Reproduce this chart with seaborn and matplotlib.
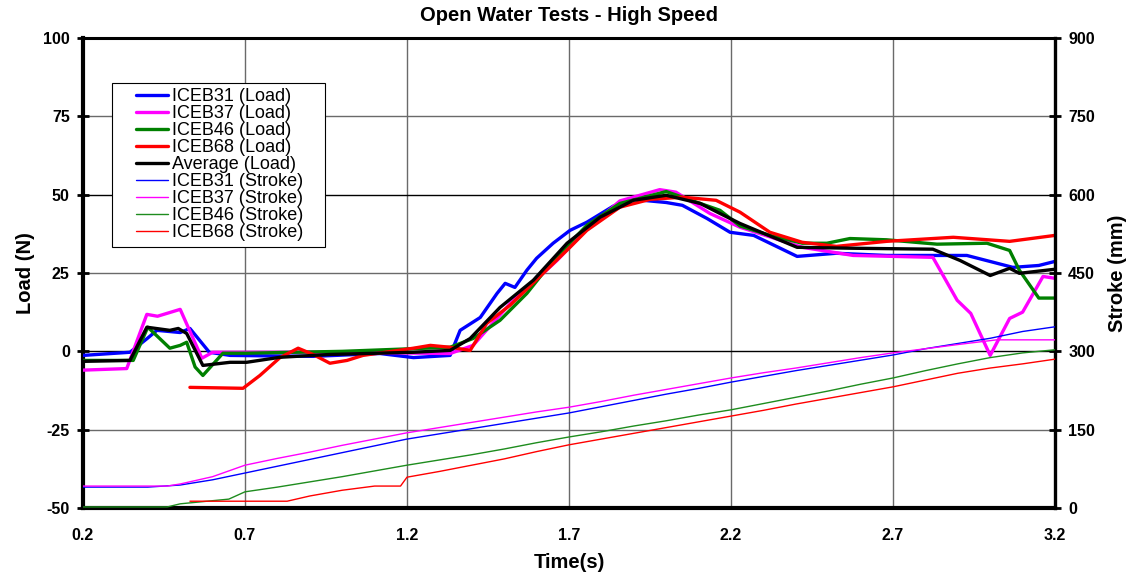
import numpy as np
import pandas as pd
import matplotlib
matplotlib.use("Agg")
import matplotlib.pyplot as plt
from matplotlib.legend_handler import HandlerLine2D
import seaborn as sns

# ---------------- data ----------------
title = "Open Water Tests - High Speed"
x_ticks = [0.2, 0.7, 1.2, 1.7, 2.2, 2.7, 3.2]
load_ticks = [-50, -25, 0, 25, 50, 75, 100]
stroke_ticks = [0, 150, 300, 450, 600, 750, 900]

# Load (N)
icEB31_load_t = [0.2, 0.345, 0.397, 0.428, 0.5, 0.53, 0.59, 0.654, 0.91, 1.117, 1.22, 1.333, 1.364,
                 1.426, 1.478, 1.503, 1.533, 1.57, 1.6, 1.651, 1.703, 1.755, 1.836, 1.898, 2.0, 2.05,
                 2.126, 2.197, 2.27, 2.404, 2.525, 2.68, 2.928, 3.07, 3.15, 3.2]
icEB31_load = [-1.3, -0.3, 4, 6.7, 6, 7.3, -0.3, -1.3, -1.6, -0.7, -2, -1.3, 6.7,
               10.8, 18.5, 21.7, 20.4, 25.9, 29.7, 34.5, 38.6, 41.2, 46.3, 48.5, 47.5, 46.6,
               42.4, 38, 37, 30.3, 31.3, 30.6, 30.6, 26.8, 27.4, 28.7]

icEB37_load_t = [0.2, 0.335, 0.397, 0.43, 0.5, 0.567, 0.6, 1.0, 1.333, 1.404, 1.518, 1.663, 1.755,
                 1.857, 1.98, 2.03, 2.135, 2.228, 2.42, 2.577, 2.823, 2.898, 2.94, 3.0, 3.06, 3.1,
                 3.163, 3.2]
icEB37_load = [-6, -5.5, 11.8, 11.2, 13.4, -2.2, -0.3, -0.3, -0.7, 1.9, 15.2, 29, 39,
               48, 51.6, 50.8, 44, 39.6, 33.2, 30.6, 30, 16.3, 12.1, -1.3, 10.5, 12.5,
               23.9, 23.3]

icEB46_load_t = [0.2, 0.355, 0.4, 0.468, 0.5, 0.52, 0.546, 0.57, 0.632, 0.705, 1.0, 1.333, 1.404,
                 1.487, 1.57, 1.651, 1.755, 1.857, 2.0, 2.105, 2.166, 2.228, 2.32, 2.42, 2.496,
                 2.567, 2.68, 2.836, 2.99, 3.06, 3.09, 3.15, 3.2]
icEB46_load = [-2.9, -2.9, 7.7, 1, 1.9, 2.9, -5, -7.7, -0.6, -0.6, 0, 1.3, 4.1,
               9.9, 18.5, 29, 40.2, 47.2, 51, 47.2, 45, 40, 37, 34.5, 34.5,
               36, 35.6, 34.2, 34.5, 32.2, 25.9, 17, 17]

icEB68_load_t = [0.53, 0.694, 0.746, 0.808, 0.864, 0.91, 0.962, 1.015, 1.064, 1.22, 1.272, 1.333,
                 1.395, 1.446, 1.518, 1.62, 1.703, 1.755, 1.857, 1.95, 2.05, 2.154, 2.228, 2.32,
                 2.42, 2.525, 2.68, 2.886, 3.06, 3.2]
icEB68_load = [-11.5, -11.8, -7.7, -2, 1, -1, -3.8, -2.9, -1.3, 1, 1.9, 1.3,
               0.3, 8.9, 14.7, 24.9, 33.2, 38.6, 46, 48.5, 49.2, 48.2, 44.4, 38,
               34.8, 33.5, 35.1, 36.4, 35.1, 37]

avg_load_t = [0.2, 0.345, 0.397, 0.468, 0.494, 0.52, 0.57, 0.654, 0.705, 0.808, 0.962, 1.22, 1.333,
              1.395, 1.487, 1.59, 1.694, 1.796, 1.898, 2.0, 2.105, 2.166, 2.228, 2.404, 2.577,
              2.823, 2.907, 3.0, 3.06, 3.09, 3.2]
avg_load = [-3.2, -2.9, 7.7, 6.7, 7.3, 5.7, -4.5, -3.5, -3.5, -1.9, -1, -0.3, 0.3,
            4.1, 14, 22.7, 34.5, 42.8, 48.2, 49.8, 47.2, 44, 40.8, 33.2, 32.9,
            32.6, 29, 24.2, 26.5, 24.9, 26.2]

# Stroke (mm)
icEB31_stroke_t = [0.2, 0.3, 0.4, 0.45, 0.5, 0.6, 0.7, 0.8, 0.9, 1.0, 1.1, 1.2, 1.3, 1.4, 1.5, 1.6,
                   1.7, 1.8, 1.9, 2.0, 2.1, 2.2, 2.3, 2.4, 2.5, 2.6, 2.7, 2.8, 2.9, 3.0, 3.1, 3.2]
icEB31_stroke = [40, 40, 40, 42, 44, 54, 67, 80, 93, 106, 119, 132, 142, 152, 162, 172,
                 182, 194, 206, 218, 229, 241, 252, 263, 273, 283, 293, 305, 315, 325, 338, 347]

icEB37_stroke_t = [0.2, 0.3, 0.4, 0.46, 0.5, 0.6, 0.7, 0.8, 0.9, 1.0, 1.1, 1.2, 1.3, 1.4, 1.5, 1.6,
                   1.7, 1.8, 1.9, 2.0, 2.1, 2.2, 2.3, 2.4, 2.5, 2.6, 2.7, 2.8, 2.9, 3.02, 3.1, 3.2]
icEB37_stroke = [42, 42, 42, 42, 46, 60, 82, 95, 107, 120, 132, 144, 154, 164, 174, 184,
                 193, 204, 216, 227, 238, 249, 259, 268, 278, 288, 297, 305, 313, 322, 322, 322]

icEB46_stroke_t = [0.2, 0.3, 0.4, 0.46, 0.5, 0.6, 0.65, 0.7, 0.8, 0.9, 1.0, 1.1, 1.2, 1.3, 1.4, 1.5,
                   1.6, 1.7, 1.8, 1.9, 2.0, 2.1, 2.2, 2.3, 2.4, 2.5, 2.6, 2.7, 2.8, 2.9, 3.0, 3.1, 3.2]
icEB46_stroke = [2, 2, 2, 2, 8, 14, 17, 31, 40, 50, 60, 71, 82, 92, 102, 113,
                 125, 136, 146, 157, 167, 178, 188, 200, 212, 224, 237, 249, 263, 276, 288, 297, 303]

icEB68_stroke_t = [0.53, 0.6, 0.7, 0.83, 0.9, 1.0, 1.1, 1.18, 1.2, 1.3, 1.4, 1.5, 1.6, 1.7, 1.8,
                   1.9, 2.0, 2.1, 2.2, 2.3, 2.4, 2.5, 2.6, 2.7, 2.8, 2.9, 3.0, 3.1, 3.2]
icEB68_stroke = [13, 13, 13, 13, 23, 34, 42, 42, 59, 70, 82, 94, 108, 121, 132,
                 143, 154, 165, 176, 187, 199, 210, 221, 232, 245, 258, 268, 276, 285]

# ---------------- style ----------------
sns.set_style("white")
plt.rcParams["font.family"] = ["Liberation Sans", "DejaVu Sans"]
plt.rcParams["axes.unicode_minus"] = False
plt.rcParams["text.color"] = "black"
plt.rcParams["axes.labelcolor"] = "black"
plt.rcParams["xtick.color"] = "black"
plt.rcParams["ytick.color"] = "black"

fig = plt.figure(figsize=(11.32, 5.77), dpi=100)
W, H = 1132, 577
ax = fig.add_axes([83 / W, (H - 508) / H, (1055 - 83) / W, (508 - 38) / H])
ax2 = ax.twinx()

load_series = [
    ("ICEB31 (Load)", icEB31_load_t, icEB31_load, "#0000FF"),
    ("ICEB37 (Load)", icEB37_load_t, icEB37_load, "#FF00FF"),
    ("ICEB46 (Load)", icEB46_load_t, icEB46_load, "#008000"),
    ("ICEB68 (Load)", icEB68_load_t, icEB68_load, "#FF0000"),
    ("Average (Load)", avg_load_t, avg_load, "#000000"),
]
stroke_series = [
    ("ICEB31 (Stroke)", icEB31_stroke_t, icEB31_stroke, "#0000FF"),
    ("ICEB37 (Stroke)", icEB37_stroke_t, icEB37_stroke, "#FF00FF"),
    ("ICEB46 (Stroke)", icEB46_stroke_t, icEB46_stroke, "#1E8C1E"),
    ("ICEB68 (Stroke)", icEB68_stroke_t, icEB68_stroke, "#FF0000"),
]

# grid
for xv in x_ticks:
    ax.axvline(xv, color="#6a6a6a", lw=1.0, zorder=0)
for yv in load_ticks:
    ax.axhline(yv, color="#000000" if yv in (0, 50) else "#6a6a6a", lw=1.0, zorder=0)

for name, t, v, c in load_series:
    df = pd.DataFrame({"t": t, "v": v})
    sns.lineplot(data=df, x="t", y="v", ax=ax, color=c, lw=2.4, sort=False,
                 estimator=None, label=name, legend=False, zorder=3)
for name, t, v, c in stroke_series:
    df = pd.DataFrame({"t": t, "v": v})
    sns.lineplot(data=df, x="t", y="v", ax=ax2, color=c, lw=1.0, sort=False,
                 estimator=None, label=name, legend=False, zorder=3)

ax.set_xlim(0.2, 3.2)
ax.set_ylim(-50, 100)
ax2.set_ylim(0, 900)
ax.set_xticks(x_ticks)
ax.set_xticklabels([f"{v:.1f}" for v in x_ticks])
ax.set_yticks(load_ticks)
ax2.set_yticks(stroke_ticks)

for a in (ax, ax2):
    for sp in a.spines.values():
        sp.set_color("black")
        sp.set_visible(True)
    a.tick_params(direction="inout", length=9, width=2, colors="black", labelsize=11.5, pad=5)
    for lbl in a.get_xticklabels() + a.get_yticklabels():
        lbl.set_fontweight("bold")
ax.tick_params(axis="x", pad=10)
ax.spines["left"].set_linewidth(3)
ax.spines["bottom"].set_linewidth(3)
ax.spines["top"].set_linewidth(2.2)
ax2.spines["right"].set_linewidth(2.4)
ax2.spines["left"].set_visible(False)
ax2.spines["bottom"].set_visible(False)

ax.set_xlabel("Time(s)", fontsize=14.5, fontweight="bold", labelpad=7)
ax.set_ylabel("Load (N)", fontsize=14.5, fontweight="bold", labelpad=6)
ax2.set_ylabel("Stroke (mm)", fontsize=14.5, fontweight="bold", labelpad=9)
ax.set_title(title, fontsize=14.5, fontweight="bold", pad=12)


class RightLine(HandlerLine2D):
    def get_xdata(self, legend, xdescent, ydescent, width, height, fontsize):
        x0 = -xdescent + 0.37 * width
        x1 = -xdescent + width
        xd = np.array([x0, x1])
        return xd, xd


h1, l1 = ax.get_legend_handles_labels()
h2, l2 = ax2.get_legend_handles_labels()
lx0 = (112 - 83) / 972
lw_ = (325 - 112) / 972
ly1 = (508 - 83) / 470
lh = (246 - 83) / 470
leg = ax2.legend(h1 + h2, l1 + l2, loc="upper left", mode="expand",
                 bbox_to_anchor=(lx0, ly1 - lh, lw_, lh),
                 fontsize=13, frameon=True, fancybox=False, framealpha=1,
                 edgecolor="black", labelspacing=0.0, handlelength=2.8,
                 handletextpad=0.25, borderpad=0.3, borderaxespad=0,
                 handler_map={matplotlib.lines.Line2D: RightLine()})
leg.get_frame().set_linewidth(0.8)

fig.savefig("out.png", dpi=100)
